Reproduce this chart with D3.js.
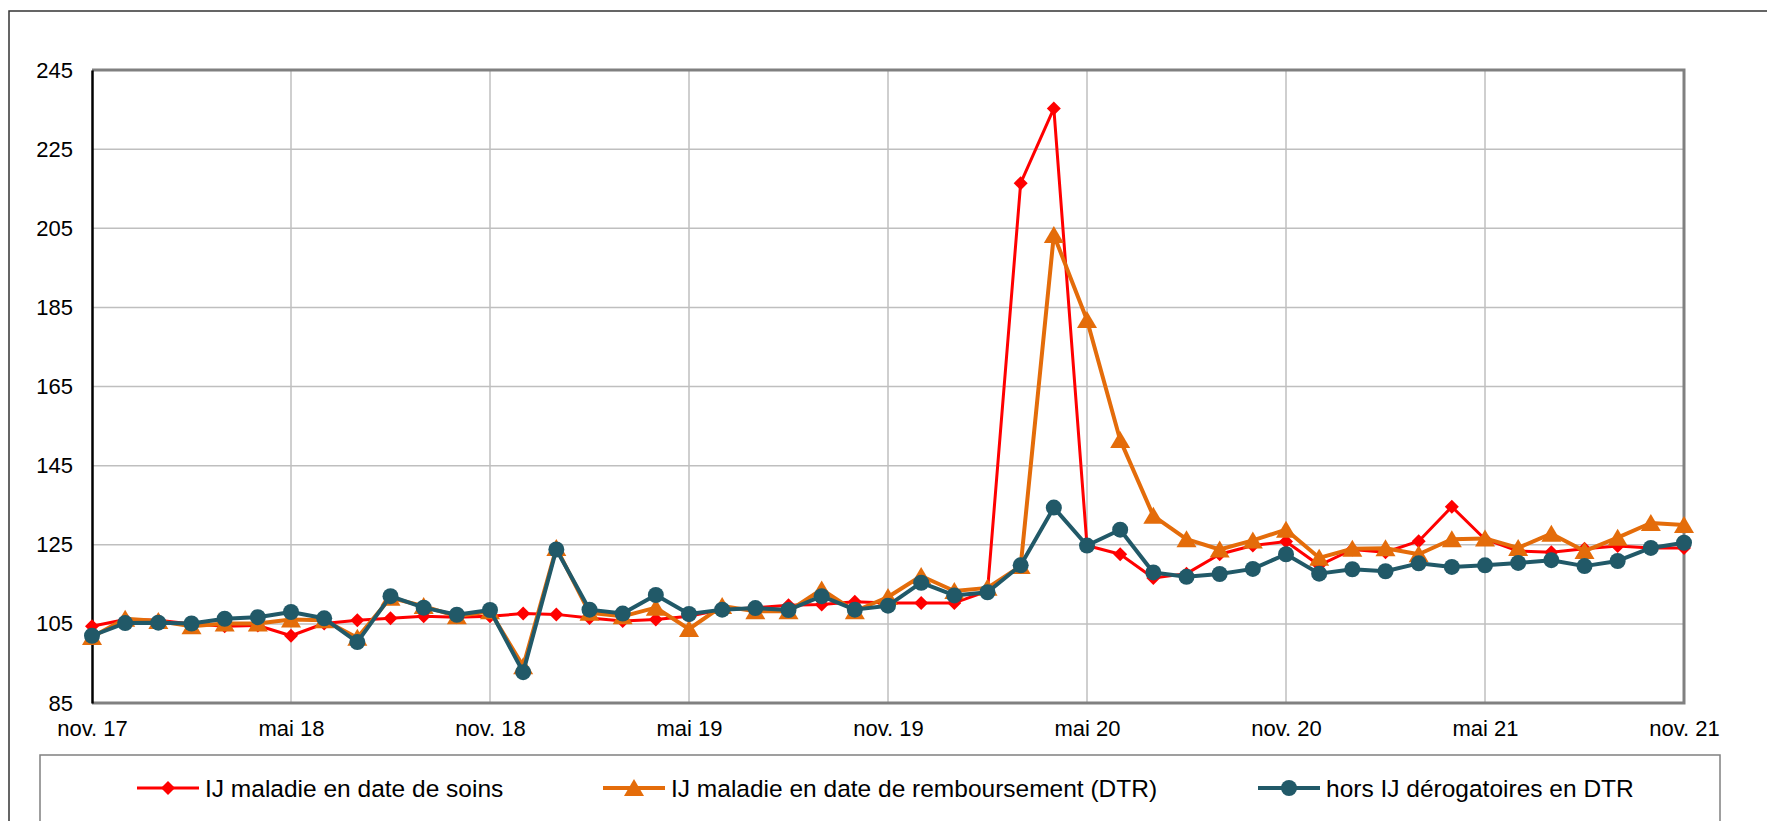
<!DOCTYPE html>
<html>
<head>
<meta charset="utf-8">
<script src="https://cdn.jsdelivr.net/npm/d3@7"></script>
<style>
  html, body { margin: 0; padding: 0; background: #fff; }
  svg { display: block; font-family: "Liberation Sans", Arial, sans-serif; }
</style>
</head>
<body>
<svg id="chart" width="1767" height="821"></svg>
<script>
// ---- data ----
const xTickLabels = ["nov. 17","mai 18","nov. 18","mai 19","nov. 19","mai 20","nov. 20","mai 21","nov. 21"];
const yTicks = [85,105,125,145,165,185,205,225,245];

const seriesNames = ["IJ maladie en date de soins","IJ maladie en date de remboursement (DTR)","hors IJ dérogatoires en DTR"];

const soins = [104.4,106.1,105.9,105.0,104.4,104.6,102.0,105.1,105.9,106.4,106.9,106.7,
  106.9,107.6,107.4,106.5,105.7,106.1,106.9,108.6,109.1,109.7,109.9,110.6,
  110.3,110.3,110.3,113.3,216.4,235.3,124.8,122.6,116.6,117.7,122.6,124.8,
  125.8,119.8,123.8,123.1,125.9,134.6,126.4,123.4,123.1,124.0,124.7,124.2,124.2];

const dtr = [101.7,106.3,105.7,104.4,105.1,105.1,106.1,105.9,101.5,111.6,109.5,106.9,
  108.2,94.3,124.2,107.8,106.9,109.1,103.7,109.5,108.2,108.2,113.7,108.2,
  111.8,117.1,113.3,114.1,119.6,203.3,181.8,151.5,132.3,126.4,123.8,126.1,
  128.8,121.7,124.0,124.1,122.6,126.4,126.6,124.2,127.8,123.4,126.8,130.5,130.0];

const horsDerog = [102.0,105.2,105.3,105.1,106.3,106.7,108.0,106.4,100.4,112.0,109.1,107.3,
  108.5,92.8,123.8,108.6,107.6,112.3,107.5,108.6,109.0,108.5,112.0,108.6,
  109.6,115.4,112.2,113.0,119.8,134.4,124.8,128.8,118.0,116.9,117.6,118.9,
  122.6,117.7,118.8,118.3,120.3,119.4,119.8,120.4,121.1,119.6,120.9,124.2,125.5];

const colors = ["#FF0000","#E46C0A","#215968"];

// ---- layout ----
const svg = d3.select("#chart");
const pL = 92, pR = 1684, pT = 70, pB = 703;

const x = d3.scaleLinear().domain([0, soins.length - 1]).range([pL, pR]);
const y = d3.scaleLinear().domain([85, 245]).range([pB, pT]);

// outer frame
svg.append("rect").attr("x", 9).attr("y", 11).attr("width", 1800).attr("height", 900)
  .attr("fill", "none").attr("stroke", "#333").attr("stroke-width", 1.5);

// gridlines
const monthTicks = d3.range(0, soins.length, 6);
svg.append("g").selectAll("line").data(yTicks.slice(1, -1)).join("line")
  .attr("x1", pL).attr("x2", pR).attr("y1", d => y(d)).attr("y2", d => y(d))
  .attr("stroke", "#BFBFBF").attr("stroke-width", 1.5);
svg.append("g").selectAll("line").data(monthTicks.slice(1, -1)).join("line")
  .attr("x1", d => x(d)).attr("x2", d => x(d)).attr("y1", pT).attr("y2", pB)
  .attr("stroke", "#BFBFBF").attr("stroke-width", 1.5);

// plot frame (top/right/bottom gray)
svg.append("path").attr("d", `M${pL},${pT}H${pR}V${pB}H${pL}`)
  .attr("fill", "none").attr("stroke", "#808080").attr("stroke-width", 3);

// y axis
const yAxis = d3.axisLeft(y).tickValues(yTicks).tickSize(0).tickPadding(19).tickFormat(d3.format("d"));
const gy = svg.append("g").attr("transform", `translate(${pL},0)`).call(yAxis);
gy.select(".domain").attr("stroke", "#000").attr("stroke-width", 2.5);
gy.selectAll("text").attr("font-size", 22).attr("fill", "#000")
  .attr("font-family", "Liberation Sans, Arial, sans-serif");

// x axis labels
const xAxis = d3.axisBottom(x).tickValues(monthTicks).tickSize(0).tickPadding(17)
  .tickFormat((d, i) => xTickLabels[i]);
const gx = svg.append("g").attr("transform", `translate(0,${pB})`).call(xAxis);
gx.select(".domain").remove();
gx.selectAll("text").attr("font-size", 22).attr("fill", "#000")
  .attr("font-family", "Liberation Sans, Arial, sans-serif");

// markers
const diamond = "M0,-7L7,0L0,7L-7,0Z";
const triangle = "M0,-9L10,8L-10,8Z";
function marker(g, k, cx, cy) {
  if (k === 0) g.append("path").attr("d", diamond).attr("transform", `translate(${cx},${cy})`).attr("fill", colors[0]);
  else if (k === 1) g.append("path").attr("d", triangle).attr("transform", `translate(${cx},${cy})`).attr("fill", colors[1]);
  else g.append("circle").attr("cx", cx).attr("cy", cy).attr("r", 8).attr("fill", colors[2]);
}

const allSeries = [soins, dtr, horsDerog];
const widths = [3, 4, 4];
const line = d3.line().x((d, i) => x(i)).y(d => y(d));
allSeries.forEach((s, k) => {
  const g = svg.append("g");
  g.append("path").datum(s).attr("d", line).attr("fill", "none")
    .attr("stroke", colors[k]).attr("stroke-width", widths[k]).attr("stroke-linejoin", "round");
  s.forEach((v, i) => marker(g, k, x(i), y(v)));
});

// legend
svg.append("rect").attr("x", 40).attr("y", 755).attr("width", 1680).attr("height", 200)
  .attr("fill", "#fff").attr("stroke", "#808080").attr("stroke-width", 1.5);
const legendX = [137, 603, 1258];
const ly = 788;
seriesNames.forEach((name, k) => {
  const g = svg.append("g");
  g.append("line").attr("x1", legendX[k]).attr("x2", legendX[k] + 62).attr("y1", ly).attr("y2", ly)
    .attr("stroke", colors[k]).attr("stroke-width", widths[k]);
  marker(g, k, legendX[k] + 31, ly);
  g.append("text").attr("x", legendX[k] + 68).attr("y", 797).attr("font-size", 24.5)
    .attr("fill", "#000").text(name);
});
</script>
</body>
</html>
